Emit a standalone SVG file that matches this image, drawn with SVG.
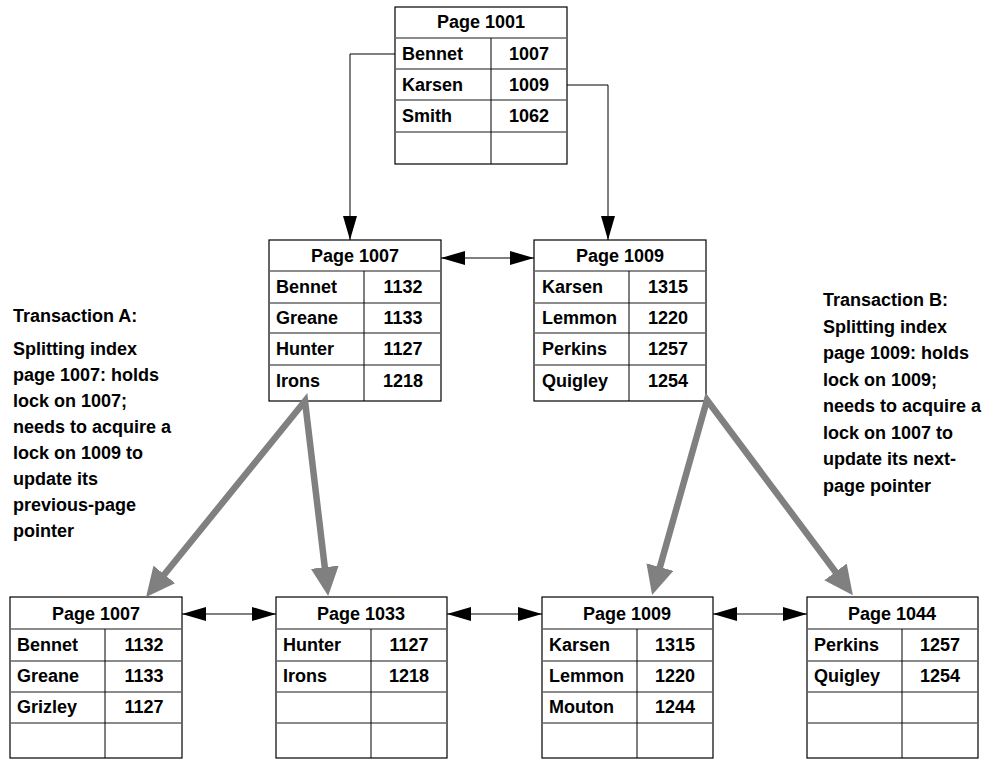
<svg xmlns="http://www.w3.org/2000/svg" width="984" height="759" viewBox="0 0 984 759">
  <style>
    text { font-family: "Liberation Sans", Arial, sans-serif; font-weight: bold; font-size: 18px; fill: #000; }
    .hd { text-anchor: middle; }
    .num { text-anchor: middle; }
    .frame { fill: #fff; stroke: #000; stroke-width: 1.2; }
    .row { stroke: #666; stroke-width: 1.5; fill: none; }
    .col { stroke: #000; stroke-width: 1; fill: none; }
    .link { stroke: #000; stroke-width: 1; fill: none; }
    .split { stroke: #808080; stroke-width: 6.5; fill: none; stroke-linejoin: miter; stroke-miterlimit: 10; }
  </style>
  <defs>
    <!-- solid black pointer head -->
    <marker id="ah" markerUnits="userSpaceOnUse" markerWidth="24" markerHeight="14" refX="24" refY="7" orient="auto-start-reverse" viewBox="0 0 24 14">
      <path d="M0,0 L24,7 L0,14 z" fill="#000"/>
    </marker>
    <!-- grey head for the split arrows; base sits on the line end -->
    <marker id="gh" markerUnits="userSpaceOnUse" markerWidth="29" markerHeight="28" refX="2" refY="14" orient="auto-start-reverse" viewBox="0 0 29 28">
      <path d="M0,0 L29,14 L0,28 z" fill="#808080"/>
    </marker>
  </defs>

  <!-- root index page -->
  <g id="page1001">
    <rect class="frame" x="395" y="7" width="172" height="157"/>
    <path class="row" d="M395,38 H567 M395,69 H567 M395,100 H567 M395,132 H567"/>
    <path class="col" d="M491,38 V164"/>
    <text class="hd" x="481" y="28">Page 1001</text>
    <text x="402" y="60">Bennet</text><text class="num" x="529" y="60">1007</text>
    <text x="402" y="91">Karsen</text><text class="num" x="529" y="91">1009</text>
    <text x="402" y="122">Smith</text><text class="num" x="529" y="122">1062</text>
  </g>

  <!-- index level, before split -->
  <g id="page1007-before">
    <rect class="frame" x="269" y="240" width="172" height="161"/>
    <path class="row" d="M269,271 H441 M269,303 H441 M269,333 H441 M269,365 H441"/>
    <path class="col" d="M364,271 V401"/>
    <text class="hd" x="355" y="262">Page 1007</text>
    <text x="276" y="293">Bennet</text><text class="num" x="403" y="293">1132</text>
    <text x="276" y="324">Greane</text><text class="num" x="403" y="324">1133</text>
    <text x="276" y="355">Hunter</text><text class="num" x="403" y="355">1127</text>
    <text x="276" y="387">Irons</text><text class="num" x="403" y="387">1218</text>
  </g>

  <g id="page1009-before">
    <rect class="frame" x="534" y="240" width="172" height="161"/>
    <path class="row" d="M534,271 H706 M534,303 H706 M534,333 H706 M534,365 H706"/>
    <path class="col" d="M629,271 V401"/>
    <text class="hd" x="620" y="262">Page 1009</text>
    <text x="542" y="293">Karsen</text><text class="num" x="668" y="293">1315</text>
    <text x="542" y="324">Lemmon</text><text class="num" x="668" y="324">1220</text>
    <text x="542" y="355">Perkins</text><text class="num" x="668" y="355">1257</text>
    <text x="542" y="387">Quigley</text><text class="num" x="668" y="387">1254</text>
  </g>

  <!-- index level, after split -->
  <g id="page1007-after">
    <rect class="frame" x="10" y="597" width="172" height="161"/>
    <path class="row" d="M10,629 H182 M10,661 H182 M10,692 H182 M10,723 H182"/>
    <path class="col" d="M105,629 V758"/>
    <text class="hd" x="96" y="620">Page 1007</text>
    <text x="17" y="651">Bennet</text><text class="num" x="144" y="651">1132</text>
    <text x="17" y="682">Greane</text><text class="num" x="144" y="682">1133</text>
    <text x="17" y="713">Grizley</text><text class="num" x="144" y="713">1127</text>
  </g>

  <g id="page1033">
    <rect class="frame" x="276" y="597" width="171" height="161"/>
    <path class="row" d="M276,629 H447 M276,661 H447 M276,692 H447 M276,723 H447"/>
    <path class="col" d="M371,629 V758"/>
    <text class="hd" x="361" y="620">Page 1033</text>
    <text x="283" y="651">Hunter</text><text class="num" x="409" y="651">1127</text>
    <text x="283" y="682">Irons</text><text class="num" x="409" y="682">1218</text>
  </g>

  <g id="page1009-after">
    <rect class="frame" x="542" y="597" width="171" height="161"/>
    <path class="row" d="M542,629 H713 M542,661 H713 M542,692 H713 M542,723 H713"/>
    <path class="col" d="M637,629 V758"/>
    <text class="hd" x="627" y="620">Page 1009</text>
    <text x="549" y="651">Karsen</text><text class="num" x="675" y="651">1315</text>
    <text x="549" y="682">Lemmon</text><text class="num" x="675" y="682">1220</text>
    <text x="549" y="713">Mouton</text><text class="num" x="675" y="713">1244</text>
  </g>

  <g id="page1044">
    <rect class="frame" x="807" y="597" width="171" height="161"/>
    <path class="row" d="M807,629 H978 M807,661 H978 M807,692 H978 M807,723 H978"/>
    <path class="col" d="M902,629 V758"/>
    <text class="hd" x="892" y="620">Page 1044</text>
    <text x="814" y="651">Perkins</text><text class="num" x="940" y="651">1257</text>
    <text x="814" y="682">Quigley</text><text class="num" x="940" y="682">1254</text>
  </g>

  <!-- transaction notes -->
  <g id="note-a">
    <text x="13" y="322">Transaction A:</text>
    <text x="13" y="355">Splitting index</text>
    <text x="13" y="381">page 1007: holds</text>
    <text x="13" y="407">lock on 1007;</text>
    <text x="13" y="433">needs to acquire a</text>
    <text x="13" y="459">lock on 1009 to</text>
    <text x="13" y="485">update its</text>
    <text x="13" y="511">previous-page</text>
    <text x="13" y="537">pointer</text>
  </g>
  <g id="note-b">
    <text x="823" y="306">Transaction B:</text>
    <text x="823" y="333">Splitting index</text>
    <text x="823" y="359">page 1009: holds</text>
    <text x="823" y="386">lock on 1009;</text>
    <text x="823" y="412">needs to acquire a</text>
    <text x="823" y="439">lock on 1007 to</text>
    <text x="823" y="465">update its next-</text>
    <text x="823" y="492">page pointer</text>
  </g>

  <!-- connectors -->
  <g id="connectors">
    <path class="link" d="M395,54 H350 V240" marker-end="url(#ah)"/>
    <path class="link" d="M567,85 H608 V240" marker-end="url(#ah)"/>
    <path class="link" d="M441,258 H534" marker-start="url(#ah)" marker-end="url(#ah)"/>
    <path class="link" d="M182,614 H276" marker-start="url(#ah)" marker-end="url(#ah)"/>
    <path class="link" d="M447,614 H542" marker-start="url(#ah)" marker-end="url(#ah)"/>
    <path class="link" d="M713,614 H807" marker-start="url(#ah)" marker-end="url(#ah)"/>
    <path class="split" d="M163.1,576.0 L305,401 L325.0,569.2" marker-start="url(#gh)" marker-end="url(#gh)"/>
    <path class="split" d="M659.4,569.0 L707,400 L836.7,573.5" marker-start="url(#gh)" marker-end="url(#gh)"/>
  </g>
</svg>
